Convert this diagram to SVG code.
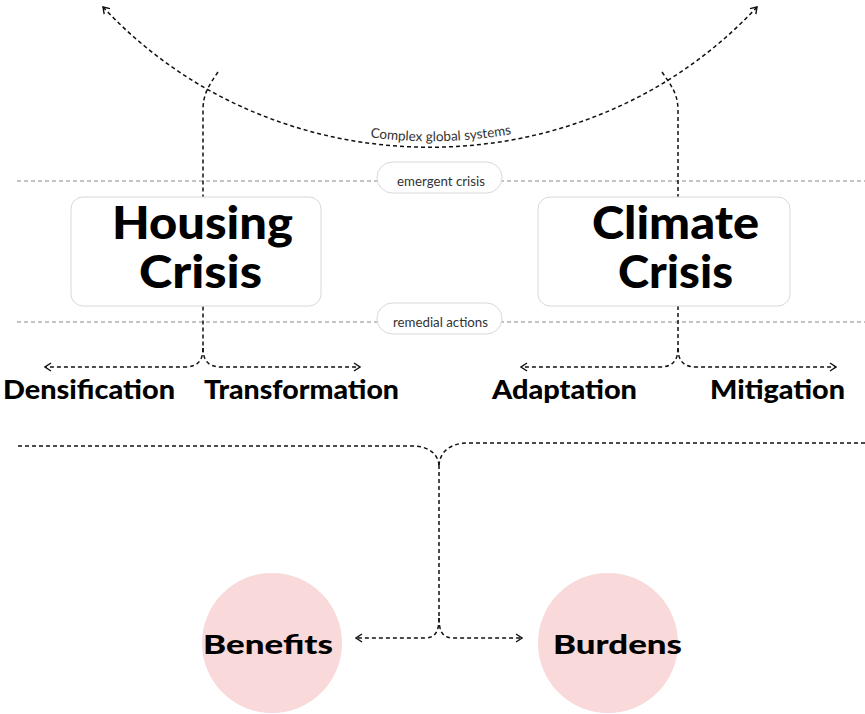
<svg xmlns="http://www.w3.org/2000/svg" width="865" height="714" viewBox="0 0 865 714">
<style>
.con{fill:none;stroke:#111;stroke-width:1.5;stroke-dasharray:4 3}
.grid{fill:none;stroke:#888;stroke-width:1;stroke-dasharray:4 3}
.box{fill:#fff;stroke:#d8d8d8;stroke-width:1}
.pill{fill:#fff;stroke:#d8d8d8;stroke-width:1}
.small{font-family:Lato,"Liberation Sans",sans-serif;font-size:13.5px;fill:#333}
.big{font-family:Lato,"Liberation Sans",sans-serif;font-weight:900;font-size:45px;fill:#000}
.mid{font-family:Lato,"Liberation Sans",sans-serif;font-weight:900;font-size:26px;fill:#000}
.circ{fill:#f9d9da}
</style>
<defs>
<marker id="arr" viewBox="0 0 8 10" refX="7" refY="5" markerWidth="8" markerHeight="10" markerUnits="userSpaceOnUse" orient="auto-start-reverse">
<path d="M1,1 L7,5 L1,9" fill="none" stroke="#111" stroke-width="1.4"/>
</marker>
<path id="arcText" d="M103,1 C277,188 583,188 757,1"/>
</defs>

<g id="guides">
<line class="grid" x1="17" y1="181" x2="865" y2="181"/>
<line class="grid" x1="17" y1="322" x2="865" y2="322"/>
</g>

<g id="connectors">
<path class="con" d="M103,7 C277,194 583,194 757,7" marker-start="url(#arr)" marker-end="url(#arr)"/>
<path class="con" d="M218,72 C210,84 203,93 203,110 V348"/>
<path class="con" d="M203,348 C203,360 198,367 185,367 H45" marker-end="url(#arr)"/>
<path class="con" d="M203,348 C203,360 208,367 221,367 H360" marker-end="url(#arr)"/>
<path class="con" d="M662,72 C670,84 678,93 678,110 V348"/>
<path class="con" d="M678,348 C678,360 673,367 660,367 H521" marker-end="url(#arr)"/>
<path class="con" d="M678,348 C678,360 683,367 696,367 H836" marker-end="url(#arr)"/>
<path class="con" d="M18,446 H412 C430,446 438,455 439,465"/>
<path class="con" d="M865,443 H468 C450,443 440,452 439,465"/>
<path class="con" d="M439,465 V618"/>
<path class="con" d="M439,618 C439,632 435,638 425,638 H356" marker-end="url(#arr)"/>
<path class="con" d="M439,618 C439,632 443,638 453,638 H522" marker-end="url(#arr)"/>
</g>

<g id="arc-label">
<text class="small" font-size="13"><textPath href="#arcText" startOffset="51.5%" text-anchor="middle">Complex global systems</textPath></text>
</g>

<g id="emergent-crisis">
<rect class="pill" x="377" y="162" width="125" height="31" rx="15.5"/>
<text class="small" x="397" y="186" textLength="88" lengthAdjust="spacingAndGlyphs">emergent crisis</text>
</g>

<g id="remedial-actions">
<rect class="pill" x="377" y="303" width="125" height="31" rx="15.5"/>
<text class="small" x="393" y="327" textLength="95" lengthAdjust="spacingAndGlyphs">remedial actions</text>
</g>

<g id="housing-crisis">
<rect class="box" x="71" y="197" width="250" height="109" rx="12"/>
<text class="big" x="112" y="239" textLength="181" lengthAdjust="spacingAndGlyphs">Housing</text>
<text class="big" x="139" y="288" textLength="123" lengthAdjust="spacingAndGlyphs">Crisis</text>
</g>

<g id="climate-crisis">
<rect class="box" x="538" y="197" width="252" height="109" rx="12"/>
<text class="big" x="592" y="239" textLength="167" lengthAdjust="spacingAndGlyphs">Climate</text>
<text class="big" x="618" y="288" textLength="115" lengthAdjust="spacingAndGlyphs">Crisis</text>
</g>

<g id="densification">
<text class="mid" x="3" y="399" textLength="172" lengthAdjust="spacingAndGlyphs">Densification</text>
</g>
<g id="transformation">
<text class="mid" x="204" y="399" textLength="195" lengthAdjust="spacingAndGlyphs">Transformation</text>
</g>
<g id="adaptation">
<text class="mid" x="492" y="399" textLength="145" lengthAdjust="spacingAndGlyphs">Adaptation</text>
</g>
<g id="mitigation">
<text class="mid" x="710" y="399" textLength="135" lengthAdjust="spacingAndGlyphs">Mitigation</text>
</g>

<g id="benefits">
<circle class="circ" cx="272" cy="643" r="70"/>
<text class="mid" x="203" y="654" font-size="30" textLength="130" lengthAdjust="spacingAndGlyphs">Benefits</text>
</g>
<g id="burdens">
<circle class="circ" cx="608" cy="643" r="70"/>
<text class="mid" x="553" y="654" font-size="30" textLength="129" lengthAdjust="spacingAndGlyphs">Burdens</text>
</g>
</svg>
